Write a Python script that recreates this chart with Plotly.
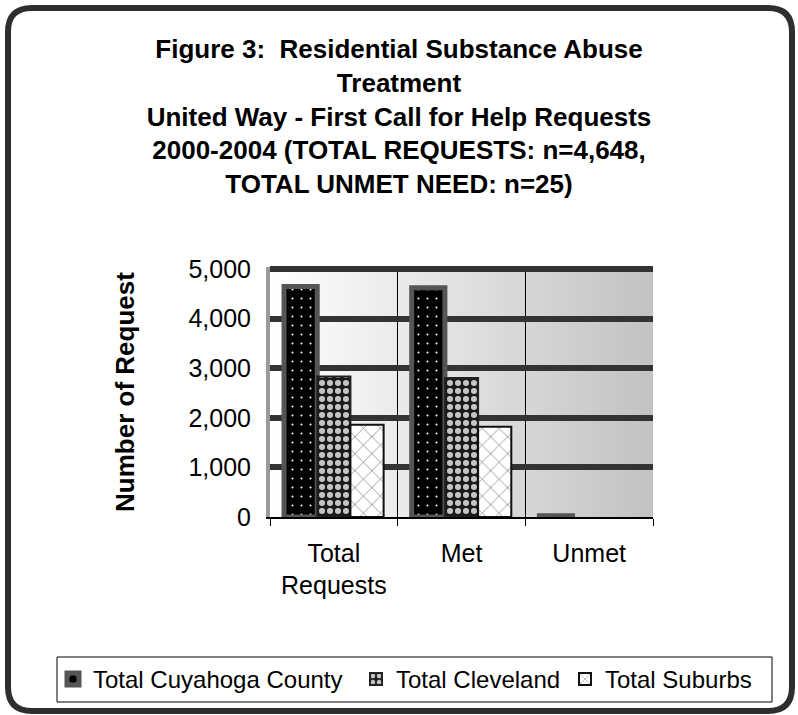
import base64
import plotly.graph_objects as go

# ---- data ----
categories = ["Total<br>Requests", "Met", "Unmet"]
series_names = ["Total Cuyahoga County", "Total Cleveland", "Total Suburbs"]
cuyahoga = [4648, 4623, 25]
cleveland = [2830, 2800, 0]
suburbs = [1860, 1820, 0]
y_tickvals = [0, 1000, 2000, 3000, 4000, 5000]
grid_vals = [1000, 2000, 3000, 4000, 5000]

title_lines = [
    "Figure 3:  Residential Substance Abuse",
    "Treatment",
    "United Way - First Call for Help Requests",
    "2000-2004 (TOTAL REQUESTS: n=4,648,",
    "TOTAL UNMET NEED: n=25)",
]

FONT = "Liberation Sans, Arial, Helvetica, sans-serif"
W, H = 798, 715
Y_TOP = 5040          # small headroom so the 5,000 gridline is drawn
L, R, B = 270, 653, 517
T = B - 248 * Y_TOP / 5000   # keeps 5,000 at pixel row 269
PW, PH = R - L, B - T


def px(x):
    return (x - L) / PW


def py(y):
    return (B - y) / PH


styles = [
    dict(color="#000000", fg="#ffffff", shape=".", size=9, sol=0.04, lc="#555555", lw=5),
    dict(color="#1a1a1a", fg="#c4c4c4", shape=".", size=8, sol=0.45, lc="#222222", lw=2),
    dict(color="#ffffff", fg="#666666", shape="x", size=12, sol=0.1, lc="#111111", lw=2),
]
legend_ids = ["legend", "legend2", "legend3"]
legend_text_x = [93, 396, 605]  # pixel x where each legend label starts

fig = go.Figure()
for name, vals, st, lid in zip(series_names, [cuyahoga, cleveland, suburbs], styles, legend_ids):
    fig.add_trace(go.Bar(
        name=name, x=categories, y=vals, legend=lid,
        marker=dict(
            color=st["color"],
            line=dict(color=st["lc"], width=[st["lw"] if v > 0 else 0 for v in vals]),
            pattern=dict(shape=st["shape"], fgcolor=st["fg"], bgcolor=st["color"],
                         size=st["size"], solidity=st["sol"], fillmode="replace"),
        ),
    ))

# empty helper trace so that the gridline axis (y2) gets drawn
fig.add_trace(go.Scatter(x=[], y=[], xaxis="x", yaxis="y2", showlegend=False,
                         hoverinfo="skip", mode="lines"))

# gradient background of the plot area
svg = ('<svg xmlns="http://www.w3.org/2000/svg" width="100" height="100" viewBox="0 0 100 100" '
       'preserveAspectRatio="none"><defs><linearGradient id="g" x1="0" x2="1" y1="0" y2="0">'
       '<stop offset="0" stop-color="#ffffff"/><stop offset="1" stop-color="#c2c2c2"/>'
       '</linearGradient></defs><rect width="100" height="100" fill="url(#g)"/></svg>')
src = "data:image/svg+xml;base64," + base64.b64encode(svg.encode()).decode()

# rounded outer frame (decoration)
x0, x1, y0, y1, r = 8, 792, 8, 711, 24
frame = (
    f"M{px(x0 + r)},{py(y0)} L{px(x1 - r)},{py(y0)} "
    f"Q{px(x1)},{py(y0)} {px(x1)},{py(y0 + r)} "
    f"L{px(x1)},{py(y1 - r)} Q{px(x1)},{py(y1)} {px(x1 - r)},{py(y1)} "
    f"L{px(x0 + r)},{py(y1)} Q{px(x0)},{py(y1)} {px(x0)},{py(y1 - r)} "
    f"L{px(x0)},{py(y0 + r)} Q{px(x0)},{py(y0)} {px(x0 + r)},{py(y0)} Z"
)

legends = {}
for lid, tx in zip(legend_ids, legend_text_x):
    legends[lid] = dict(
        orientation="h", xref="container", yref="container",
        x=(tx - 40) / W, xanchor="left", y=1 - 679.5 / H, yanchor="middle",
        bgcolor="rgba(0,0,0,0)", borderwidth=0,
        font=dict(family=FONT, size=24, color="black"), itemclick=False, itemwidth=30,
    )

fig.update_layout(
    width=W, height=H, autosize=False,
    margin=dict(l=L, r=W - R, t=T, b=H - B, pad=0),
    paper_bgcolor="white", plot_bgcolor="rgba(0,0,0,0)",
    font=dict(family=FONT, size=25, color="black"),
    barmode="group", bargap=0.22, bargroupgap=0,
    title=dict(
        text="<br>".join(f"<b>{t}</b>" for t in title_lines),
        font=dict(family=FONT, size=26, color="black"),
        x=0.5, xref="container", xanchor="center",
        y=1 - 58 / H, yref="container", yanchor="top",
    ),
    xaxis=dict(
        type="category", tickson="boundaries",
        showgrid=True, gridcolor="black", gridwidth=1.2,
        showline=True, linecolor="black", linewidth=1.5,
        ticks="outside", ticklen=7, tickcolor="black", tickwidth=1.2,
        tickfont=dict(size=25), ticklabelstandoff=13,
    ),
    yaxis=dict(
        range=[0, Y_TOP], tickvals=y_tickvals, tickformat=",",
        showgrid=False, zeroline=False,
        showline=True, linecolor="#9a9a9a", linewidth=4,
        ticks="", tickfont=dict(size=25), ticklabelstandoff=10,
        title=dict(text="<b>Number of Request</b>", font=dict(size=26), standoff=47),
    ),
    yaxis2=dict(
        overlaying="y", anchor="x", side="left", range=[0, Y_TOP], tickvals=grid_vals,
        showgrid=True, gridcolor="#333333", gridwidth=6,
        showticklabels=False, zeroline=False, showline=False, ticks="",
    ),
    images=[dict(source=src, xref="paper", yref="paper", x=0, y=1, sizex=1, sizey=1,
                 xanchor="left", yanchor="top", sizing="stretch", layer="below")],
    shapes=[
        dict(type="path", path=frame, xref="paper", yref="paper",
             line=dict(color="#2e2e2e", width=6), layer="above"),
        dict(type="rect", xref="paper", yref="paper",
             x0=px(57), x1=px(772), y0=py(702), y1=py(657),
             line=dict(color="black", width=1), fillcolor="rgba(0,0,0,0)", layer="above"),
    ],
    showlegend=True,
    **legends,
)

fig.write_html("out.html")
